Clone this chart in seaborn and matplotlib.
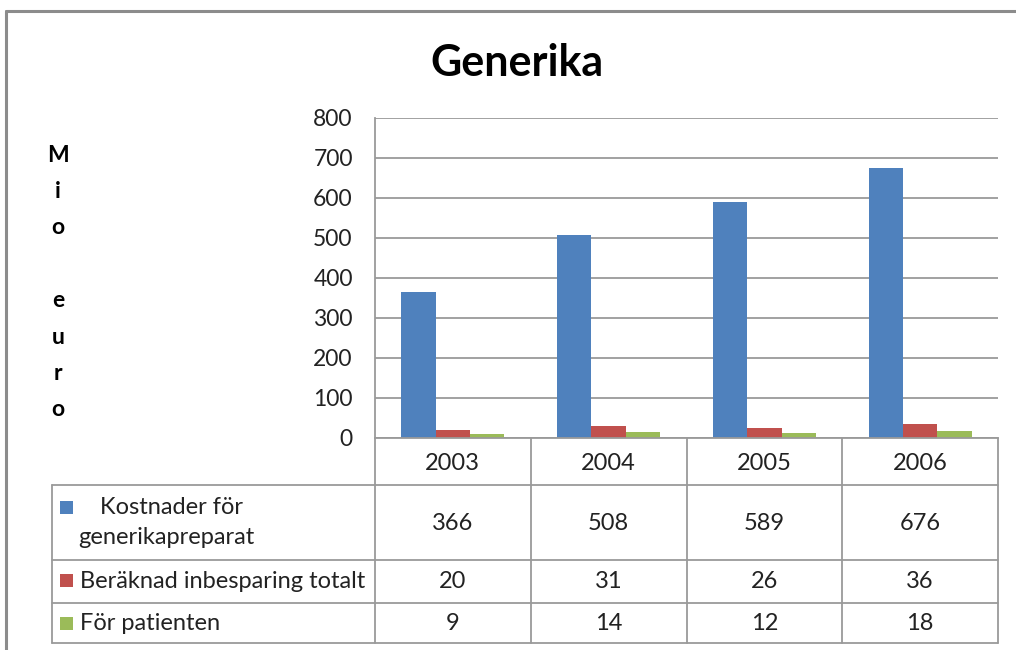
import matplotlib
matplotlib.use("Agg")
import matplotlib.pyplot as plt
import seaborn as sns
import pandas as pd
from matplotlib.lines import Line2D
from matplotlib.patches import Rectangle

# ---- data ----
years = ["2003", "2004", "2005", "2006"]
series_names = ["Kostnader för generikapreparat", "Beräknad inbesparing totalt", "För patienten"]
kostnader = [366, 508, 589, 676]
inbesparing = [20, 31, 26, 36]
patienten = [9, 14, 12, 18]
title = "Generika"
ylabel_letters = ["M", "i", "o", "", "e", "u", "r", "o"]
yticks = [0, 100, 200, 300, 400, 500, 600, 700, 800]

colors = ["#4F81BD", "#C0504D", "#9BBB59"]
series_values = [kostnader, inbesparing, patienten]

sns.set_theme(style="white")
plt.rcParams["font.family"] = ["Lato", "DejaVu Sans"]

W, H = 1016, 650
fig = plt.figure(figsize=(W / 100, H / 100), dpi=100)
fig.patch.set_facecolor("white")

def fx(x):
    return x / W

def fy(y):
    return 1 - y / H

# plot area
L, R, T, B = 375, 998, 118, 438
ax = fig.add_axes([fx(L), fy(B), fx(R) - fx(L), fy(T) - fy(B)])

df = pd.DataFrame({
    "year": [y for vals in series_values for y in years],
    "series": [s for s, vals in zip(series_names, series_values) for _ in vals],
    "value": [v for vals in series_values for v in vals],
})
sns.barplot(data=df, x="year", y="value", hue="series", order=years,
            hue_order=series_names, palette=colors, width=0.66,
            saturation=1, legend=False, ax=ax, linewidth=0)

grid_col = "#9a9a9a"
txt_col = "#222222"
ax.set_xlim(-0.5, len(years) - 0.5)
ax.set_ylim(0, 800)
ax.set_yticks(yticks)
ax.set_yticklabels([str(t) for t in yticks], fontsize=16.5, color=txt_col)
ax.set_xticks([])
ax.set_xlabel("")
ax.set_ylabel("")
ax.yaxis.grid(True, color=grid_col, linewidth=1.3)
ax.set_axisbelow(True)
ax.tick_params(axis="y", length=0, pad=16)
for s in ["top", "right"]:
    ax.spines[s].set_visible(False)
for s in ["left", "bottom"]:
    ax.spines[s].set_color(grid_col)
    ax.spines[s].set_linewidth(1.3)

# title
fig.text(fx(517), fy(63), title, ha="center", va="center", fontsize=31,
         fontweight="bold", color="black")

# vertical y label letters
for i, ch in enumerate(ylabel_letters):
    if ch:
        fig.text(fx(58), fy(155 + i * 36.4), ch, ha="center", va="center",
                 fontsize=16.5, fontweight="bold", color="black")

# outer frame (extends beyond canvas right & bottom)
frame_col = "#8c8c8c"
fig.add_artist(Line2D([fx(6), 1.0], [fy(11), fy(11)], color=frame_col, lw=2.2))
fig.add_artist(Line2D([fx(6), fx(6)], [fy(11), 0.0], color=frame_col, lw=2.2))

# data table
col_edges = [375, 530.75, 686.5, 842.25, 998]
table_left = 52
row_lines = [485, 560, 603, 643]

def hline(x0, x1, y):
    fig.add_artist(Line2D([fx(x0), fx(x1)], [fy(y), fy(y)], color=grid_col, lw=1.3))

def vline(x, y0, y1):
    fig.add_artist(Line2D([fx(x), fx(x)], [fy(y0), fy(y1)], color=grid_col, lw=1.3))

for y in row_lines:
    hline(table_left, col_edges[-1], y)
for x in col_edges:
    vline(x, B, row_lines[-1])
vline(table_left, row_lines[0], row_lines[-1])

fs = 17
centers = [(col_edges[i] + col_edges[i + 1]) / 2 for i in range(len(years))]
for cx, yr in zip(centers, years):
    fig.text(fx(cx), fy(463), yr, ha="center", va="center", fontsize=fs, color=txt_col)

row_centers = [523, 581, 624]
key_y = [507, 580, 623]
for r, (name, vals, col) in enumerate(zip(series_names, series_values, colors)):
    ky = key_y[r]
    fig.add_artist(Rectangle((fx(60), fy(ky + 6.5)), fx(13), fy(0) - fy(13),
                             facecolor=col, edgecolor="none"))
    if r == 0:
        fig.text(fx(100), fy(508), "Kostnader för", ha="left", va="center",
                 fontsize=fs, color=txt_col)
        fig.text(fx(78), fy(538), "generikapreparat", ha="left", va="center",
                 fontsize=fs, color=txt_col)
    else:
        fig.text(fx(80), fy(ky + 1), name, ha="left", va="center", fontsize=fs, color=txt_col)
    for cx, v in zip(centers, vals):
        fig.text(fx(cx), fy(row_centers[r]), str(v), ha="center", va="center",
                 fontsize=fs, color=txt_col)

fig.savefig("out.png", dpi=100, facecolor="white")
